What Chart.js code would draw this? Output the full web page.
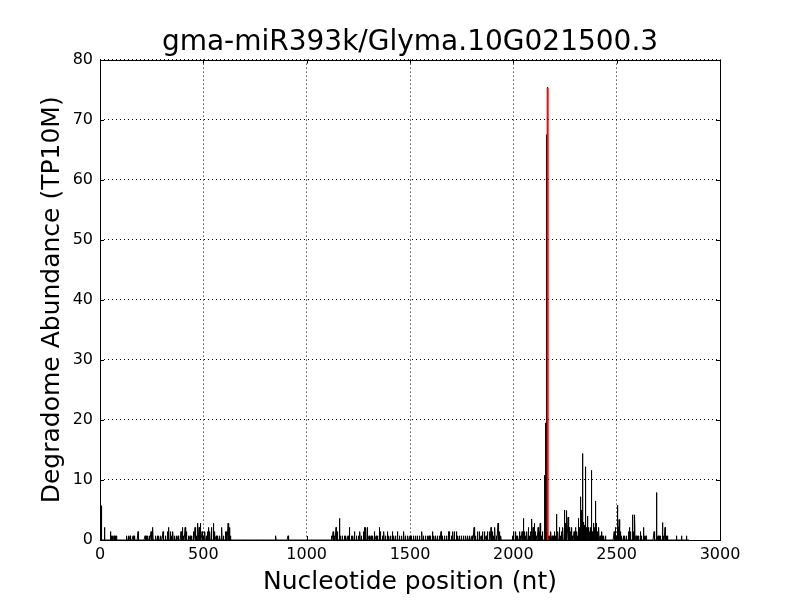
<!DOCTYPE html>
<html>
<head>
<meta charset="utf-8">
<script src="https://cdn.jsdelivr.net/npm/chart.js@4/dist/chart.umd.min.js"></script>
<style>
  html, body { margin: 0; padding: 0; background: #fff; }
  #wrap { width: 800px; height: 600px; }
</style>
</head>
<body>
<div id="wrap"><canvas id="c" width="800" height="600"></canvas></div>
<script>
// ---- Data ----
const chartTitle = "gma-miR393k/Glyma.10G021500.3";
const xLabel = "Nucleotide position (nt)";
const yLabel = "Degradome Abundance (TP10M)";
const transcriptLength = 2850;
const xTicks = [0, 500, 1000, 1500, 2000, 2500, 3000];
const yTicks = [0, 10, 20, 30, 40, 50, 60, 70, 80];

// positions (nt) with non-zero degradome abundance (black trace)
const positions = [
  5, 22, 50, 57, 62, 68, 74, 80, 130, 138, 146, 160, 166, 184,
  218, 225, 232, 240, 247, 256, 270, 278, 285, 295, 305,
  318, 326, 333, 340, 347, 353, 362, 370, 378,
  392, 398, 405, 412, 418, 428, 436, 443,
  452, 460, 466, 474, 480, 487, 494, 500,
  508, 514, 520, 527, 532, 540, 548, 555, 562, 570, 580, 590, 598, 606, 614, 620, 626, 632,
  851, 910,
  1121, 1128, 1135, 1142, 1150, 1158, 1165, 1172, 1182, 1190, 1200, 1208, 1216, 1224, 1232, 1240,
  1250, 1258, 1266, 1274, 1280, 1287, 1294, 1302, 1312, 1320, 1328, 1336, 1344, 1352, 1358, 1366,
  1374, 1382, 1390, 1398, 1406, 1414, 1422, 1430, 1440, 1450, 1460, 1470, 1478, 1490, 1500, 1508, 1516,
  1528, 1536, 1545, 1558, 1566, 1575, 1584, 1592, 1600, 1608, 1616, 1625, 1634, 1642, 1650, 1658,
  1666, 1676, 1685, 1692, 1700, 1708, 1716, 1724, 1732, 1740, 1750, 1760, 1770, 1780, 1790, 1800,
  1810, 1818, 1828, 1836, 1844, 1852, 1860, 1868, 1876, 1884, 1892, 1900, 1906, 1911, 1918, 1926,
  1932, 1940, 1995, 2002, 2010, 2016, 2022, 2030,
  2036, 2042, 2048, 2054, 2060, 2066, 2072, 2078, 2084, 2090, 2096, 2102, 2108, 2114, 2120, 2126,
  2130, 2136, 2142, 2150, 2153, 2156, 2160, 2163, 2166, 2170,
  2175, 2182, 2188, 2194, 2200, 2205, 2210, 2216, 2222, 2228, 2234, 2240, 2247, 2252, 2258, 2265,
  2270, 2276, 2282, 2288, 2294, 2300, 2306, 2311, 2315, 2320, 2325, 2329, 2334, 2338, 2342, 2346,
  2350, 2355, 2360, 2365, 2370, 2374, 2378, 2383, 2388, 2393, 2398, 2403, 2408, 2414, 2420, 2426,
  2432, 2438, 2445,
  2488, 2494, 2500, 2503, 2507, 2512, 2518, 2525, 2532, 2540, 2548, 2556, 2562, 2568, 2577, 2582,
  2588, 2594, 2600, 2607, 2614, 2620, 2630, 2636, 2642, 2681, 2694, 2700, 2706, 2712, 2721, 2727,
  2734, 2740, 2746, 2790, 2814, 2838
];
const abundance = [
  5.7, 2.1, 1.4, 0.7, 0.7, 0.7, 0.7, 0.7, 0.7, 0.7, 0.7, 0.7, 0.7, 1.4,
  0.7, 0.7, 0.7, 0.7, 1.4, 2.1, 0.7, 0.7, 0.7, 0.7, 1.4,
  0.7, 1.4, 2.1, 1.4, 0.7, 1.4, 0.7, 0.7, 0.7,
  1.4, 2.1, 0.7, 2.1, 1.4, 0.7, 0.7, 0.7,
  1.4, 2.1, 0.7, 2.8, 2.1, 2.8, 1.4, 0.7,
  1.4, 0.7, 1.4, 2.1, 1.4, 2.1, 2.8, 1.4, 0.7, 0.7, 0.7, 2.1, 0.7, 1.4, 1.4, 2.8, 2.1, 0.7,
  0.7, 0.7,
  0.7, 1.4, 0.7, 2.1, 1.4, 3.6, 0.7, 0.7, 0.7, 0.7, 0.7, 2.1, 0.7, 0.7, 1.4, 0.7,
  0.7, 1.4, 0.7, 1.4, 2.1, 2.1, 2.1, 0.7, 0.7, 0.7, 1.4, 0.7, 0.7, 2.1, 1.4, 0.7,
  1.4, 0.7, 1.4, 0.7, 0.7, 1.4, 0.7, 0.7, 1.4, 0.7, 0.7, 1.4, 0.7, 0.7, 0.7, 0.7, 0.7,
  0.7, 0.7, 0.7, 1.4, 0.7, 0.7, 0.7, 0.7, 0.7, 1.4, 0.7, 0.7, 0.7, 0.7, 1.4, 0.7,
  0.7, 0.7, 1.4, 1.4, 0.7, 1.4, 1.4, 1.4, 0.7, 0.7, 0.7, 0.7, 0.7, 0.7, 0.7, 0.7,
  2.1, 0.7, 1.4, 1.4, 0.7, 1.4, 1.4, 0.7, 1.4, 1.4, 2.1, 1.4, 0.7, 2.1, 0.7, 2.8,
  1.4, 0.7, 0.7, 1.4, 1.4, 0.7, 0.7, 1.4,
  0.7, 1.4, 3.6, 1.4, 0.7, 1.4, 2.1, 0.7, 1.4, 3.5, 2.1, 2.8, 1.4, 0.7, 2.1, 1.4,
  2.8, 0.7, 1.4, 10.8, 2.1, 19.5, 67.5, 13.0, 75.4, 0.7,
  0.7, 1.4, 0.7, 0.7, 1.4, 0.7, 4.3, 1.4, 2.1, 0.7, 1.4, 2.1, 5.0, 2.8, 4.9, 3.8,
  2.1, 1.4, 2.1, 0.7, 1.4, 2.1, 1.4, 0.7, 3.6, 2.1, 7.2, 5.0, 14.4, 3.0, 2.5, 1.4,
  12.2, 2.1, 4.0, 2.1, 1.4, 2.1, 11.6, 1.4, 2.8, 2.1, 6.5, 2.8, 1.4, 2.1, 0.7, 1.4,
  0.7, 0.7, 0.7,
  1.4, 2.1, 0.7, 5.8, 2.1, 3.4, 1.4, 0.7, 0.7, 0.7, 0.7, 1.4, 2.1, 1.4, 4.2, 1.4,
  4.2, 0.7, 0.7, 0.7, 1.4, 0.7, 2.1, 0.7, 0.7, 1.4, 7.9, 0.7, 0.7, 0.7, 2.9, 0.7,
  2.1, 0.7, 0.7, 0.7, 0.7, 0.7
];

// target (cleavage) site trace drawn in red
const sitePositions = [2164, 2165, 2166, 2167, 2168];
const siteAbundance = [0, 0, 75.3, 0, 0];

// ---- Build the per-nucleotide series ----
const lookup = new Map();
positions.forEach((p, i) => lookup.set(p, abundance[i]));
const blackSeries = [];
for (let p = 0; p <= transcriptLength; p++) {
  blackSeries.push({ x: p, y: lookup.has(p) ? lookup.get(p) : 0 });
}
const redSeries = sitePositions.map((p, i) => ({ x: p, y: siteAbundance[i] }));

const FONT = "'DejaVu Sans', 'Liberation Sans', sans-serif";

const frame = {
  id: 'frame',
  afterDatasetsDraw(chart) {
    const { ctx, chartArea: a, scales } = chart;
    ctx.save();
    ctx.strokeStyle = '#000';
    ctx.lineWidth = 1;
    ctx.beginPath();
    const tl = 4;
    xTicks.forEach(v => {
      const x = Math.round(scales.x.getPixelForValue(v)) + 0.5;
      ctx.moveTo(x, a.bottom); ctx.lineTo(x, a.bottom - tl);
      ctx.moveTo(x, a.top); ctx.lineTo(x, a.top + tl);
    });
    yTicks.forEach(v => {
      const y = Math.round(scales.y.getPixelForValue(v)) + 0.5;
      ctx.moveTo(a.left, y); ctx.lineTo(a.left + tl, y);
      ctx.moveTo(a.right, y); ctx.lineTo(a.right - tl, y);
    });
    ctx.stroke();
    ctx.strokeRect(Math.round(a.left) + 0.5, Math.round(a.top) + 0.5,
                   Math.round(a.right - a.left), Math.round(a.bottom - a.top));
    ctx.restore();
  }
};

const dottedGrid = { color: '#000', lineWidth: 1, drawTicks: false };
const dottedBorder = { display: false, dash: [1, 3] };

new Chart(document.getElementById('c'), {
  type: 'line',
  data: {
    datasets: [
      { label: 'site', data: redSeries, borderColor: '#ff0000', borderWidth: 2,
        pointRadius: 0, tension: 0, fill: false, order: 0 },
      { label: 'degradome', data: blackSeries, borderColor: '#000000', borderWidth: 1,
        pointRadius: 0, tension: 0, fill: false, order: 1 }
    ]
  },
  options: {
    responsive: false,
    animation: false,
    events: [],
    layout: { padding: { left: 20, right: 0, top: 0, bottom: 0 } },
    plugins: {
      legend: { display: false },
      tooltip: { enabled: false },
      title: {
        display: true, text: chartTitle, color: '#000',
        font: { family: FONT, size: 28, weight: 'normal' },
        padding: { top: 26, bottom: 0 }
      }
    },
    scales: {
      x: {
        type: 'linear', min: 0, max: 3000,
        afterBuildTicks: s => { s.ticks = xTicks.map(v => ({ value: v })); },
        afterFit: s => { s.height = 60; },
        grid: dottedGrid,
        border: dottedBorder,
        ticks: { color: '#000', font: { family: FONT, size: 16 }, padding: 5, maxRotation: 0,
                 callback: v => String(v) },
        title: { display: true, text: xLabel, color: '#000',
                 font: { family: FONT, size: 25 }, padding: { top: 0, bottom: 3 } }
      },
      y: {
        type: 'linear', min: 0, max: 80,
        afterBuildTicks: s => { s.ticks = yTicks.map(v => ({ value: v })); },
        afterFit: s => { s.width = 80; },
        grid: dottedGrid,
        border: dottedBorder,
        ticks: { color: '#000', font: { family: FONT, size: 16 }, padding: 7,
                 callback: v => String(v) },
        title: { display: true, text: yLabel, color: '#000',
                 font: { family: FONT, size: 25 }, padding: { top: 17, bottom: 0 } }
      },
      yRight: {
        type: 'linear', position: 'right', min: 0, max: 80,
        afterFit: s => { s.width = 80; },
        grid: { display: false, drawOnChartArea: false },
        border: { display: false },
        ticks: { display: false }
      }
    }
  },
  plugins: [frame]
});
</script>
</body>
</html>
